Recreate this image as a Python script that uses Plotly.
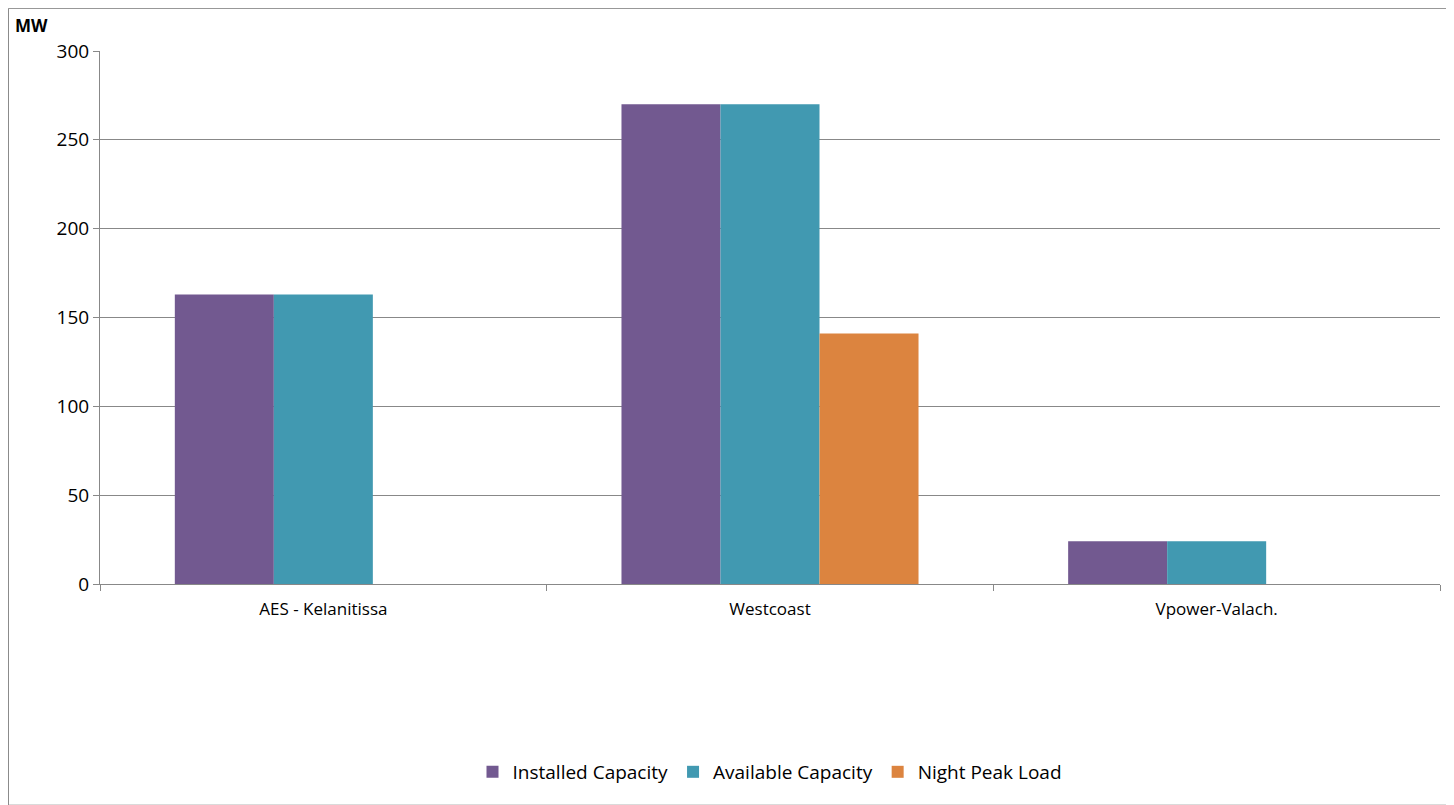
import plotly.graph_objects as go

plantas = ["AES - Kelanitissa", "Westcoast", "Vpower-Valach."]
installed = [163, 270, 24]
available = [163, 270, 24]
night_peak = [0, 141, 0]

fig = go.Figure()
fig.add_bar(x=plantas, y=installed, name="Installed Capacity", marker_color="#725990")
fig.add_bar(x=plantas, y=available, name="Available Capacity", marker_color="#4199B1")
fig.add_bar(x=plantas, y=night_peak, name="Night Peak Load", marker_color="#DC843F")
fig.update_traces(marker_line_width=0)

fig.update_layout(
    width=1454, height=805,
    margin=dict(l=92, r=22, t=43, b=229),
    plot_bgcolor="white", paper_bgcolor="white",
    font=dict(family="Open Sans", color="black"),
    barmode="group", bargap=0.335, bargroupgap=0,
    legend=dict(orientation="h", x=0.5, xanchor="center", y=-0.317, yanchor="top",
                font=dict(size=19)),
    shapes=[dict(type="rect", xref="paper", yref="paper", x0=-0.0683, x1=1.006, y0=-0.415, y1=1.08,
                 line=dict(color="#888", width=1))],
    annotations=[dict(text="<b>MW</b>", xref="paper", yref="paper", x=-0.065, y=1.022,
                      xanchor="left", yanchor="bottom", showarrow=False, font=dict(size=17))],
)
fig.update_xaxes(showline=True, linecolor="#888", ticks="outside", tickcolor="#888",
                 ticklen=6, tickfont=dict(size=17), tickson="boundaries", ticklabelstandoff=10)
fig.update_yaxes(range=[0, 300], dtick=50, showgrid=True, gridcolor="#888", showline=True,
                 linecolor="#888", ticks="outside", tickcolor="#888", ticklen=6,
                 tickfont=dict(size=19), zeroline=False)

fig.write_html("out.html")
